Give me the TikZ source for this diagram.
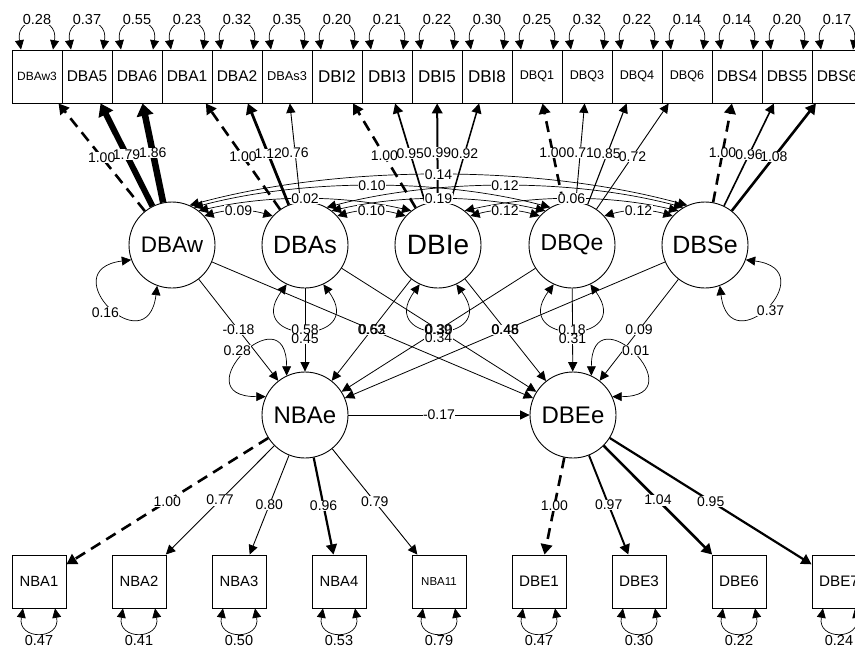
\documentclass[tikz,border=0pt]{standalone}
\usepackage{fontspec}
\setmainfont{Liberation Sans}
\usetikzlibrary{arrows.meta}
\newcommand\fs[1]{\fontsize{#1pt}{#1pt}\selectfont}
\tikzset{
  >={Triangle[length=9pt 0.5,width=8pt 1.3]},
  lat/.style={circle,draw,line width=0.9pt,minimum size=86pt,inner sep=0pt},
  man/.style={rectangle,draw,line width=0.9pt,minimum width=50pt,minimum height=53pt,inner sep=0pt},
  manb/.style={man,minimum width=54pt},
  ld/.style={->,line width=#1},
  fx/.style={->,line width=2.6pt,dash pattern=on 11pt off 7pt},
  rg/.style={->,line width=0.8pt},
  cv/.style={<->,line width=0.7pt},
  lp/.style={<->,line width=0.7pt},
  lab/.style={fill=white,inner sep=0.4pt,font=\fs{14.5}},
  lbg/.style={fill=white,inner sep=0.4pt,font=\fs{14}},
  ltx/.style={inner sep=0.4pt,font=\fs{14}},
}
\begin{document}
\begin{tikzpicture}[x=1pt,y=-1pt]
\useasboundingbox (0,0) rectangle (855,648);
% latent variables
\node[lat,font=\fs{22.5}] (DBAw) at (172,245) {DBAw};
\node[lat,font=\fs{25}] (DBAs) at (305,245) {DBAs};
\node[lat,font=\fs{28}] (DBIe) at (438,245) {DBIe};
\node[lat,font=\fs{23}] (DBQe) at (572,245) {DBQe};
\node[lat,font=\fs{25}] (DBSe) at (705,245) {DBSe};
\node[lat,font=\fs{24}] (NBAe) at (305,415) {NBAe};
\node[lat,font=\fs{24}] (DBEe) at (573,415) {DBEe};
% top indicators
\foreach \n/\sz [count=\i from 0] in {DBAw3/12,DBA5/15.5,DBA6/15.5,DBA1/15.5,DBA2/15.5,DBAs3/12.8,DBI2/17,DBI3/17,DBI5/17,DBI8/17,DBQ1/12.6,DBQ3/12.6,DBQ4/12.6,DBQ6/12.6,DBS4/15.5,DBS5/15.5,DBS6/15.5}
  \node[man,font=\fs{\sz}] (\n) at (37+50*\i,76.5) {\n};
% bottom indicators
\foreach \n/\sz [count=\i from 0] in {NBA1/14.8,NBA2/14.8,NBA3/14.8,NBA4/14.8,NBA11/11.5,DBE1/15.2,DBE3/15.2,DBE6/15.2,DBE7/15.2}
  \node[manb,font=\fs{\sz}] (\n) at (39+100*\i,581.5) {\n};
% residual loops, top
\foreach \n/\v in {DBAw3/0.28,DBA5/0.37,DBA6/0.55,DBA1/0.23,DBA2/0.32,DBAs3/0.35,DBI2/0.20,DBI3/0.21,DBI5/0.22,DBI8/0.30,DBQ1/0.25,DBQ3/0.32,DBQ4/0.22,DBQ6/0.14,DBS4/0.14,DBS5/0.20,DBS6/0.17}
  \draw[lp] ([xshift=-16pt]\n.north) .. controls +(-6,-35) and +(6,-35) .. node[lab,pos=.5,yshift=3.5pt] (tl\n) {\v} ([xshift=16pt]\n.north);
% residual loops, bottom
\foreach \n/\v in {NBA1/0.47,NBA2/0.41,NBA3/0.50,NBA4/0.53,NBA11/0.79,DBE1/0.47,DBE3/0.30,DBE6/0.22,DBE7/0.24}
  \draw[lp] ([xshift=-16pt]\n.south) .. controls +(-6,32) and +(6,32) .. node[lab,pos=.5,yshift=-8pt] (bl\n) {\v} ([xshift=16pt]\n.south);
% loadings, top
\draw[fx] (DBAw) -- coordinate[pos=.5] (a1) (DBAw3);
\draw[ld=6pt] (DBAw) -- coordinate[pos=.5] (a2) (DBA5);
\draw[ld=6.5pt] (DBAw) -- coordinate[pos=.5] (a3) (DBA6);
\draw[fx] (DBAs) -- coordinate[pos=.5] (a4) (DBA1);
\draw[ld=2.8pt] (DBAs) -- coordinate[pos=.5] (a5) (DBA2);
\draw[ld=0.9pt] (DBAs) -- coordinate[pos=.5] (a6) (DBAs3);
\draw[fx] (DBIe) -- coordinate[pos=.5] (a7) (DBI2);
\draw[ld=1.7pt] (DBIe) -- coordinate[pos=.5] (a8) (DBI3);
\draw[ld=2pt] (DBIe) -- coordinate[pos=.5] (a9) (DBI5);
\draw[ld=1.5pt] (DBIe) -- coordinate[pos=.5] (a10) (DBI8);
\draw[fx] (DBQe) -- coordinate[pos=.5] (a11) (DBQ1);
\draw[ld=0.9pt] (DBQe) -- coordinate[pos=.5] (a12) (DBQ3);
\draw[ld=1.1pt] (DBQe) -- coordinate[pos=.5] (a13) (DBQ4);
\draw[ld=0.9pt] (DBQe) -- coordinate[pos=.5] (a14) (DBQ6);
\draw[fx] (DBSe) -- coordinate[pos=.5] (a15) (DBS4);
\draw[ld=1.6pt] (DBSe) -- coordinate[pos=.5] (a16) (DBS5);
\draw[ld=2.6pt] (DBSe) -- coordinate[pos=.5] (a17) (DBS6);
% loadings, bottom
\draw[fx] (NBAe) -- coordinate[pos=.5] (b1) (NBA1);
\draw[ld=0.9pt] (NBAe) -- coordinate[pos=.5] (b2) (NBA2);
\draw[ld=0.9pt] (NBAe) -- coordinate[pos=.5] (b3) (NBA3);
\draw[ld=2.2pt] (NBAe) -- coordinate[pos=.5] (b4) (NBA4);
\draw[ld=0.9pt] (NBAe) -- coordinate[pos=.5] (b5) (NBA11);
\draw[fx] (DBEe) -- coordinate[pos=.5] (b6) (DBE1);
\draw[ld=1.9pt] (DBEe) -- coordinate[pos=.5] (b7) (DBE3);
\draw[ld=2.6pt] (DBEe) -- coordinate[pos=.5] (b8) (DBE6);
\draw[ld=2.2pt] (DBEe) -- coordinate[pos=.5] (b9) (DBE7);
% covariances among exogenous latents
\draw[cv] (DBAw.42) .. controls +(25,-7) and +(-25,-7) .. coordinate[pos=.5] (c1) (DBAs.138);
\draw[cv] (DBAs.42) .. controls +(25,-7) and +(-25,-7) .. coordinate[pos=.5] (c2) (DBIe.138);
\draw[cv] (DBIe.42) .. controls +(25,-7) and +(-25,-7) .. coordinate[pos=.5] (c3) (DBQe.138);
\draw[cv] (DBQe.42) .. controls +(25,-7) and +(-25,-7) .. coordinate[pos=.5] (c4) (DBSe.138);
\draw[cv] (DBAw.52) .. controls +(70,-16) and +(-70,-16) .. coordinate[pos=.5] (c5) (DBIe.128);
\draw[cv] (DBAs.52) .. controls +(70,-16) and +(-70,-16) .. coordinate[pos=.5] (c6) (DBQe.128);
\draw[cv] (DBIe.52) .. controls +(70,-16) and +(-70,-16) .. coordinate[pos=.5] (c7) (DBSe.128);
\draw[cv] (DBAw.60) .. controls +(110,-29) and +(-110,-29) .. coordinate[pos=.5] (c8) (DBQe.120);
\draw[cv] (DBAs.60) .. controls +(110,-29) and +(-110,-29) .. coordinate[pos=.5] (c9) (DBSe.120);
\draw[cv] (DBAw.66) .. controls +(150,-41) and +(-150,-41) .. coordinate[pos=.5] (c10) (DBSe.114);
% latent variances
\draw[lp] (DBAw.200) .. controls +(-80,10) and +(-10,80) .. coordinate[pos=.5,xshift=-5pt,yshift=-6pt] (v1) (DBAw.250);
\draw[lp] (DBAs.245) .. controls +(-45,61) and +(45,61) .. coordinate[pos=.5] (v2) (DBAs.295);
\draw[lp] (DBIe.245) .. controls +(-45,61) and +(45,61) .. coordinate[pos=.5] (v3) (DBIe.295);
\draw[lp] (DBQe.245) .. controls +(-45,61) and +(45,61) .. coordinate[pos=.5] (v4) (DBQe.295);
\draw[lp] (DBSe.340) .. controls +(80,10) and +(10,80) .. coordinate[pos=.5,xshift=4pt,yshift=-4pt] (v5) (DBSe.290);
\draw[lp] (NBAe.115) .. controls +(0,-85) and +(-85,0) .. coordinate[pos=.5,xshift=-7pt,yshift=4pt] (v6) (NBAe.155);
\draw[lp] (DBEe.65) .. controls +(0,-85) and +(85,0) .. coordinate[pos=.5,xshift=2pt,yshift=4pt] (v7) (DBEe.25);
% regressions
\draw[rg] (DBAw) -- coordinate[pos=.5] (r1) (NBAe);
\draw[rg] (DBAw) -- coordinate[pos=.5] (r2) (DBEe);
\draw[rg] (DBAs) -- coordinate[pos=.6] (r3) (NBAe);
\draw[rg] (DBAs) -- coordinate[pos=.5] (r4) (DBEe);
\draw[rg] (DBIe) -- coordinate[pos=.5] (r5) (NBAe);
\draw[rg] (DBIe) -- coordinate[pos=.5] (r6) (DBEe);
\draw[rg] (DBQe) -- coordinate[pos=.5,yshift=-8pt] (r7) (NBAe);
\draw[rg] (DBQe) -- coordinate[pos=.6] (r8) (DBEe);
\draw[rg] (DBSe) -- coordinate[pos=.5] (r9) (NBAe);
\draw[rg] (DBSe) -- coordinate[pos=.5] (r10) (DBEe);
\draw[rg] (NBAe) -- coordinate[pos=.5] (r11) (DBEe);
% edge labels: backgrounds first, then texts
\def\labs{a1/1.00,a2/1.79,a3/1.86,a4/1.00,a5/1.12,a6/0.76,a7/1.00,a8/0.95,a9/0.99,a10/0.92,a11/1.00,a12/0.71,a13/0.85,a14/0.72,a15/1.00,a16/0.96,a17/1.08,b1/1.00,b2/0.77,b3/0.80,b4/0.96,b5/0.79,b6/1.00,b7/0.97,b8/1.04,b9/0.95,c1/0.09,c2/0.10,c3/0.12,c4/0.12,c5/0.02,c6/0.19,c7/0.06,c8/0.10,c9/0.12,c10/0.14,v1/0.16,v2/0.58,v3/0.39,v4/0.18,v5/0.37,v6/0.28,v7/0.01,r1/-0.18,r2/0.52,r3/0.45,r4/0.30,r5/0.63,r6/0.46,r7/0.34,r8/0.31,r9/0.48,r10/0.09,r11/-0.17}
\foreach \lc/\lt in \labs {\node[lbg] (bg-\lc) at (\lc) {\phantom{\lt}};}
\foreach \lc/\lt in \labs {\node[ltx] (tx-\lc) at (\lc) {\lt};}
\end{tikzpicture}
\end{document}
